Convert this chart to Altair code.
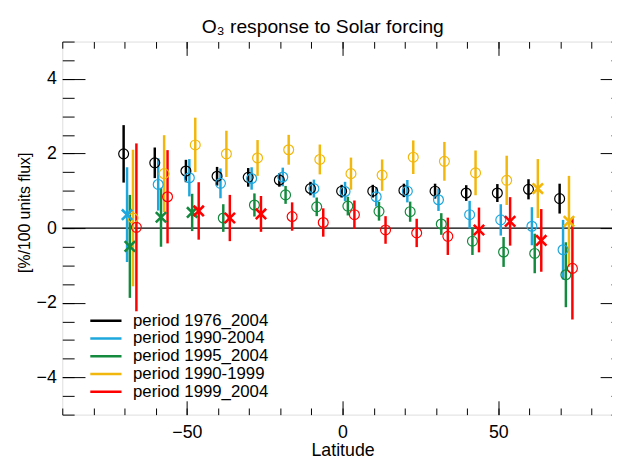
import altair as alt
import pandas as pd

# ---------------- data ----------------
lats = [-70, -60, -50, -40, -30, -20, -10, 0, 10, 20, 30, 40, 50, 60, 70]

series_names = ["period 1976_2004", "period 1990-2004", "period 1995_2004",
                "period 1990-1999", "period 1999_2004"]
series_colors = ["#000000", "#1ea7dc", "#138a3d", "#f2b70c", "#ff0000"]

black_val = [1.99, 1.75, 1.53, 1.39, 1.36, 1.29, 1.06, 0.99, 0.99, 1.01, 0.99, 0.94, 0.94, 1.04, 0.79]
black_err = [0.77, 0.41, 0.30, 0.25, 0.25, 0.18, 0.18, 0.17, 0.17, 0.18, 0.20, 0.21, 0.24, 0.27, 0.40]
black_mrk = ["o", "o", "o", "o", "o", "o", "o", "o", "o", "o", "o", "o", "o", "o", "o"]

blue_val = [0.36, 1.17, 1.35, 1.20, 1.33, 1.37, 1.06, 0.98, 0.84, 0.99, 0.76, 0.36, 0.22, 0.05, -0.58]
blue_err = [1.27, 0.70, 0.50, 0.40, 0.30, 0.25, 0.24, 0.26, 0.26, 0.30, 0.30, 0.37, 0.42, 0.51, 0.80]
blue_mrk = ["x", "o", "o", "o", "o", "o", "o", "o", "o", "o", "o", "o", "o", "o", "o"]

green_val = [-0.49, 0.29, 0.42, 0.27, 0.62, 0.89, 0.57, 0.59, 0.45, 0.44, 0.11, -0.35, -0.64, -0.68, -1.25]
green_err = [1.38, 0.79, 0.50, 0.37, 0.31, 0.24, 0.25, 0.25, 0.25, 0.27, 0.29, 0.37, 0.40, 0.53, 0.87]
green_mrk = ["x", "x", "x", "o", "o", "o", "o", "o", "o", "o", "o", "o", "o", "o", "o"]

yellow_val = [0.27, 1.46, 2.23, 1.99, 1.88, 2.10, 1.84, 1.46, 1.42, 1.90, 1.79, 1.48, 1.28, 1.06, 0.18]
yellow_err = [1.83, 1.03, 0.73, 0.62, 0.48, 0.40, 0.40, 0.43, 0.42, 0.45, 0.52, 0.60, 0.66, 0.79, 1.22]
yellow_mrk = ["o", "o", "o", "o", "o", "o", "o", "o", "o", "o", "o", "o", "o", "x", "x"]

red_val = [0.02, 0.84, 0.46, 0.27, 0.38, 0.31, 0.15, 0.36, -0.05, -0.13, -0.22, -0.05, 0.18, -0.33, -1.08]
red_err = [2.25, 1.25, 0.77, 0.62, 0.48, 0.38, 0.38, 0.38, 0.37, 0.38, 0.50, 0.60, 0.65, 0.84, 1.37]
red_mrk = ["o", "o", "x", "x", "x", "o", "o", "o", "o", "o", "o", "x", "x", "x", "o"]

y_major = [-4, -2, 0, 2, 4]
y_minor = [v / 2 for v in range(-10, 11)]
x_major = [-50, 0, 50]
x_minor = list(range(-90, 91, 10))

# small horizontal dodge (degrees) so that the series do not overlap
dodge = [-0.3, 0.8, 1.7, 2.7, 3.8]

all_vals = [black_val, blue_val, green_val, yellow_val, red_val]
all_errs = [black_err, blue_err, green_err, yellow_err, red_err]
all_mrks = [black_mrk, blue_mrk, green_mrk, yellow_mrk, red_mrk]

rows = []
for name, vals, errs, mrks, dx in zip(series_names, all_vals, all_errs, all_mrks, dodge):
    for lat, v, e, m in zip(lats, vals, errs, mrks):
        rows.append({"series": name, "lat": lat + dx, "val": v,
                     "lo": v - e, "hi": v + e, "marker": m})
df = pd.DataFrame(rows)

FONT = "Liberation Sans"
xs = alt.Scale(domain=[-90, 90], nice=False, zero=False)
ys = alt.Scale(domain=[-5, 5], nice=False, zero=False)

base = alt.Chart(df)


def axis_layer(xaxis, yaxis):
    return base.mark_point(opacity=0).encode(
        x=alt.X("lat:Q", scale=xs, axis=xaxis),
        y=alt.Y("val:Q", scale=ys, axis=yaxis),
    )


common = dict(domain=False, grid=False, tickColor="black", tickWidth=1,
              labelFont=FONT, titleFont=FONT, labelColor="black", titleColor="black",
              titleFontWeight="normal", minExtent=0)

ax_main = axis_layer(
    alt.Axis(orient="bottom", values=x_major, tickSize=14, offset=-14, labelFontSize=18,
             labelPadding=9, title="Latitude", titleFontSize=18, titleY=55.5,
             titleBaseline="alphabetic", **common),
    alt.Axis(orient="left", values=y_major, tickSize=23, offset=-23, labelFontSize=18,
             labelPadding=6, title="[%/100 units flux]", titleFontSize=16, titleAngle=270,
             titleX=-61, titleY=173, titleBaseline="middle", titleAlign="center", **common),
)
ax_minor = axis_layer(
    alt.Axis(orient="bottom", values=x_minor, tickSize=6.7, offset=-6.7, labels=False,
             title=None, **common),
    alt.Axis(orient="left", values=y_minor, tickSize=12, offset=-12, labels=False,
             title=None, **common),
)
ax_top = axis_layer(
    alt.Axis(orient="top", values=x_major, tickSize=14, offset=-14, labels=False,
             title=None, **common),
    alt.Axis(orient="right", values=y_major, tickSize=23, offset=-23, labels=False,
             title=None, **common),
)
ax_top_minor = axis_layer(
    alt.Axis(orient="top", values=x_minor, tickSize=6.7, offset=-6.7, labels=False,
             title=None, **common),
    alt.Axis(orient="right", values=y_minor, tickSize=12, offset=-12, labels=False,
             title=None, **common),
)

zero_line = alt.Chart(pd.DataFrame({"z": [0]})).mark_rule(
    color="black", strokeWidth=1.2).encode(y=alt.Y("z:Q", scale=ys, axis=None))

errbars = base.mark_rule(strokeWidth=2.5).encode(
    x=alt.X("lat:Q", scale=xs, axis=None),
    y=alt.Y("lo:Q", scale=ys, axis=None),
    y2="hi:Q",
    color=alt.Color(
        "series:N",
        scale=alt.Scale(domain=series_names, range=series_colors),
        legend=alt.Legend(orient="none", legendX=26.7, legendY=274.5, title=None,
                          symbolType="stroke", symbolSize=1000, symbolStrokeWidth=2.5,
                          clipHeight=16.65, rowPadding=0, padding=0, labelOffset=10,
                          labelFontSize=17, labelFont=FONT, labelColor="black"),
    ),
)

stroke_enc = alt.Stroke("series:N",
                        scale=alt.Scale(domain=series_names, range=series_colors),
                        legend=None)

circles = base.transform_filter(alt.datum.marker == "o").mark_point(
    shape="circle", filled=False, size=100, strokeWidth=1.2, opacity=1
).encode(
    x=alt.X("lat:Q", scale=xs, axis=None),
    y=alt.Y("val:Q", scale=ys, axis=None),
    stroke=stroke_enc,
)

crosses = base.transform_filter(alt.datum.marker == "x").mark_point(
    shape="M-1,-1L1,1M1,-1L-1,1", filled=False, size=110, strokeWidth=2.6, opacity=1
).encode(
    x=alt.X("lat:Q", scale=xs, axis=None),
    y=alt.Y("val:Q", scale=ys, axis=None),
    stroke=stroke_enc,
)

chart = alt.layer(
    ax_main, ax_minor, ax_top, ax_top_minor, zero_line, errbars, circles, crosses
).resolve_axis(
    x="independent", y="independent"
).properties(
    width=568,
    height=378,
    title=alt.TitleParams("O₃ response to Solar forcing", font=FONT, fontSize=19.5,
                          fontWeight="normal", color="black", anchor="middle",
                          dx=-20, dy=21, offset=10, baseline="alphabetic"),
    padding={"left": 55, "top": 31, "right": -11, "bottom": 46},
    autosize=alt.AutoSizeParams(type="none"),
).configure_view(
    stroke="black", strokeWidth=1.2
).configure(
    background="white"
)

chart.save("out.html", embed_options={"renderer": "svg", "actions": False})
